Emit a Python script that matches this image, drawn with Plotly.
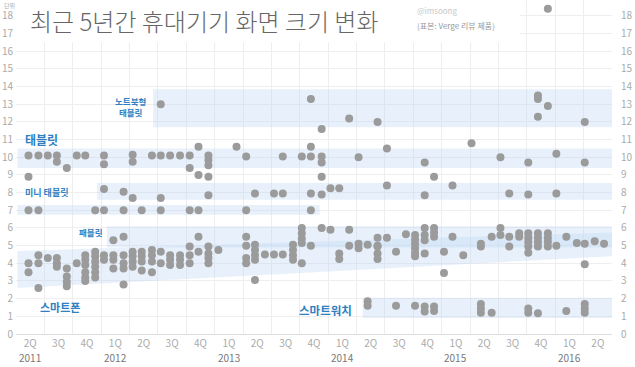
import plotly.graph_objects as go

# x = position in quarters (0 = start of 2Q 2011), y = screen size (inch)
phone_x = [0.44,0.44,0.79,0.79,0.79,1.12,1.44,1.44,1.44,1.79,1.79,1.79,1.79,2.14,
           2.44,2.44,2.44,2.44,2.44,2.44,2.79,2.79,2.79,2.79,2.79,2.79,3.10,3.10,
           3.43,3.43,3.43,3.79,3.79,3.79,3.79,4.11,4.11,4.11,4.11,4.43,4.43,4.43,4.43,
           4.79,4.79,4.79,4.79,5.10,5.10,5.43,5.43,5.43,5.78,5.78,5.78,6.12,6.12,6.12,
           6.43,6.78,6.78,6.78,6.78,7.13,8.11,8.11,8.42,8.42,8.42,8.42,8.77,9.09,9.40,
           9.76,9.76,9.76,10.07,10.39,11.39,11.39,11.74,12.07,12.74,12.74,12.74,13.39,
           14.06,14.06,14.06,14.40,15.08,15.08,15.76,16.38,17.38,18.05,18.05,18.39,
           18.74,20.04]
phone_y = [4.0,3.5,4.45,4.0,2.6,4.3,4.3,4.0,3.8,3.7,3.25,2.95,2.7,4.0,
           4.45,4.2,3.9,3.5,3.2,3.0,4.65,4.4,4.1,3.8,3.5,3.2,4.45,4.2,
           4.45,4.2,3.7,4.45,4.0,3.7,2.8,4.65,4.4,4.1,3.8,4.65,4.4,4.1,3.6,
           4.75,4.45,4.1,3.5,4.65,4.0,4.45,4.2,3.9,4.45,4.2,3.9,4.95,4.45,4.0,
           4.65,4.95,4.55,4.3,4.0,4.75,4.3,4.0,4.75,4.45,4.2,3.05,4.5,4.5,4.5,
           4.75,4.45,4.2,4.0,5.0,4.55,4.25,5.0,4.85,4.95,4.55,4.25,4.65,
           4.85,4.6,4.4,4.55,4.65,3.45,4.45,4.95,4.95,4.95,4.6,4.95,
           4.95,3.95]

phablet_x = [3.43,3.79,6.43,8.11,8.11,8.42,9.76,10.07,10.07,10.07,10.07,10.77,11.08,
             11.74,12.07,12.39,12.74,12.74,13.07,13.74,14.06,14.06,14.06,14.40,14.40,14.40,
             14.73,14.73,14.73,15.38,16.38,16.76,17.07,17.07,17.38,17.73,17.73,
             18.05,18.05,18.05,18.39,18.39,18.39,18.74,18.74,18.74,19.04,19.39,19.76,
             20.04,20.39,20.72]
phablet_y = [5.3,5.5,5.5,5.5,5.0,5.05,5.05,6.0,5.7,5.4,5.15,6.0,5.9,
             5.9,5.1,5.05,5.45,5.0,5.45,5.65,5.6,5.35,5.1,6.0,5.6,5.3,
             6.0,5.75,5.5,5.5,5.1,5.5,6.0,5.6,5.5,5.7,5.5,
             5.7,5.45,5.2,5.7,5.45,5.2,5.7,5.45,5.2,5.0,5.5,5.15,
             5.1,5.25,5.1]

mini_x = [0.44,0.79,2.79,3.10,3.10,3.79,3.79,4.11,4.43,5.10,5.10,6.12,6.43,6.78,8.11,
          8.42,9.09,9.40,10.39,10.39,10.77,11.08,11.39,13.07,14.40,15.38,17.38,18.05,19.04]
mini_y = [7.0,7.0,7.0,8.2,7.0,8.05,7.0,7.7,7.0,7.7,7.0,7.0,7.0,7.85,7.0,
          7.95,7.95,7.95,7.95,7.0,7.9,8.25,8.25,8.4,7.85,8.4,7.95,7.9,7.95]

tablet_x = [0.44,0.44,0.79,1.12,1.44,1.44,1.79,2.14,2.44,3.10,3.10,4.11,4.11,4.79,5.10,
            5.43,5.78,6.12,6.12,6.43,6.43,6.78,6.78,6.78,6.78,7.77,8.11,9.40,10.07,10.39,
            10.39,10.77,10.77,10.77,12.07,13.07,14.40,14.73,16.05,17.07,18.05,19.04,20.04]
tablet_y = [10.1,8.9,10.1,10.1,10.1,9.75,9.4,10.1,10.1,10.1,9.6,10.15,9.75,10.1,10.1,
            10.1,10.1,10.1,9.4,10.6,9.0,10.1,9.85,9.55,8.9,10.6,10.05,10.05,10.05,10.6,
            10.05,10.05,9.7,8.9,10.0,10.5,9.7,8.9,10.8,10.0,9.7,10.2,9.7]

notebook_x = [5.10,10.39,10.77,11.74,12.74,18.39,18.39,18.39,18.74,20.04,18.74]
notebook_y = [13.0,13.3,11.6,12.2,12.0,13.5,13.3,12.3,12.9,12.0,18.4]

watch_x = [12.39,12.39,13.39,14.06,14.40,14.40,14.73,14.73,16.38,16.38,16.38,16.76,
           18.05,18.05,18.39,19.39,20.04,20.04,20.04]
watch_y = [1.85,1.6,1.6,1.6,1.55,1.27,1.55,1.3,1.7,1.45,1.2,1.2,
           1.45,1.2,1.17,1.3,1.7,1.45,1.2]

quarters = ["2Q","3Q","4Q","1Q"] * 5 + ["2Q"]
quarter_pos = [i + 0.5 for i in range(21)]
years = ["2011","2012","2013","2014","2015","2016"]
year_pos = [0.5, 3.5, 7.5, 11.5, 15.5, 19.5]
y_ticks = list(range(0, 19))

FONT = "Noto Sans CJK KR"
BLUE = "#2f7fc1"
DOT = "#9b9b9b"
BAND = "rgba(190,215,245,0.36)"

fig = go.Figure()
for xs, ys in [(phone_x, phone_y), (phablet_x, phablet_y), (mini_x, mini_y),
               (tablet_x, tablet_y), (notebook_x, notebook_y), (watch_x, watch_y)]:
    fig.add_trace(go.Scatter(x=xs, y=ys, mode="markers",
                             marker=dict(size=8, color=DOT, line=dict(width=0)),
                             showlegend=False, hoverinfo="skip"))
fig.add_trace(go.Scatter(x=[0], y=[0], mode="markers", marker=dict(opacity=0),
                         yaxis="y2", showlegend=False, hoverinfo="skip"))

shapes = []
def band(x0, x1, y0, y1):
    shapes.append(dict(type="rect", xref="x", yref="y", x0=x0, x1=x1, y0=y0, y1=y1,
                       fillcolor=BAND, line=dict(width=0), layer="between"))
band(4.83, 21, 11.7, 13.85)
band(0.05, 21, 9.4, 10.5)
band(2.86, 21, 7.6, 8.55)
band(0.05, 10.7, 6.75, 7.3)
band(3.2, 21, 4.9, 6.1)
band(12.22, 21, 0.9, 2.05)
shapes.append(dict(type="path", xref="x", yref="y",
                   path="M 0.05,2.6 L 21,4.4 L 21,5.75 L 0.05,4.7 Z",
                   fillcolor=BAND, line=dict(width=0), layer="between"))
# white box behind title
shapes.append(dict(type="rect", xref="x", yref="y", x0=0, x1=17.75, y0=16.5, y1=19,
                   fillcolor="white", line=dict(width=0), layer="between"))

ann = []
def label(text, x, y, size, xanchor="center"):
    ann.append(dict(text=text, x=x, y=y, xref="x", yref="y", showarrow=False,
                    xanchor=xanchor, yanchor="middle",
                    font=dict(family=FONT, size=size, color=BLUE, weight="bold")))
label("노트북형<br>태블릿", 4.02, 12.85, 8.5)
label("태블릿", 0.25, 10.98, 12, "left")
label("미니 태블릿", 0.25, 8.0, 9, "left")
label("패블릿", 2.15, 5.77, 8.5, "left")
label("스마트폰", 0.78, 1.53, 11, "left")
label("스마트워치", 9.9, 1.36, 11.5, "left")

ann.append(dict(text="최근 5년간 휴대기기 화면 크기 변화", x=0.43, y=17.75, xref="x", yref="y",
                showarrow=False, xanchor="left", yanchor="middle",
                font=dict(family=FONT, size=24, color="#666666", weight=300)))
ann.append(dict(text="@imsoong", x=14.05, y=18.3, xref="x", yref="y", showarrow=False,
                xanchor="left", yanchor="middle",
                font=dict(family=FONT, size=8, color="#c8c8c8")))
ann.append(dict(text="(표본: Verge 리뷰 제품)", x=14.05, y=17.45, xref="x", yref="y",
                showarrow=False, xanchor="left", yanchor="middle",
                font=dict(family=FONT, size=8, color="#999999")))
for t, xp in zip(years, year_pos):
    ann.append(dict(text=t, x=xp, y=-0.069, xref="x", yref="paper", showarrow=False,
                    xanchor="center", yanchor="middle",
                    font=dict(family=FONT, size=10, color="#777777")))
ann.append(dict(text="단위", x=0.0, y=1.0, xref="x", yref="paper", showarrow=False,
                xanchor="right", yanchor="top", borderpad=0,
                font=dict(family=FONT, size=6, color="#aaaaaa")))
ann.append(dict(text="단위", x=21.2, y=1.0, xref="x", yref="paper", showarrow=False,
                xanchor="left", yanchor="top", borderpad=0,
                font=dict(family=FONT, size=6, color="#aaaaaa")))

fig.update_layout(
    width=635, height=367,
    margin=dict(l=16, r=23, t=0, b=33),
    paper_bgcolor="white", plot_bgcolor="white",
    font=dict(family=FONT),
    shapes=shapes, annotations=ann,
    xaxis=dict(range=[0, 21], tickvals=quarter_pos, ticktext=quarters,
               showgrid=False, zeroline=False, showline=True, linecolor="#dddddd",
               ticks="", tickfont=dict(family=FONT, size=10, color="#aaaaaa"),
               minor=dict(tick0=0, dtick=1, showgrid=True, gridcolor="#eeeeee", ticks=""),
               fixedrange=True),
    yaxis=dict(range=[0, 18.9], tickvals=y_ticks, showgrid=True, gridcolor="#eeeeee",
               zeroline=False, ticks="", tickfont=dict(family=FONT, size=10, color="#aaaaaa"),
               ticklabelstandoff=2),
    yaxis2=dict(range=[0, 18.9], tickvals=y_ticks, overlaying="y", side="right",
                showgrid=False, zeroline=False, ticks="",
                tickfont=dict(family=FONT, size=10, color="#aaaaaa"), ticklabelstandoff=8),
)
fig.write_html("out.html")
